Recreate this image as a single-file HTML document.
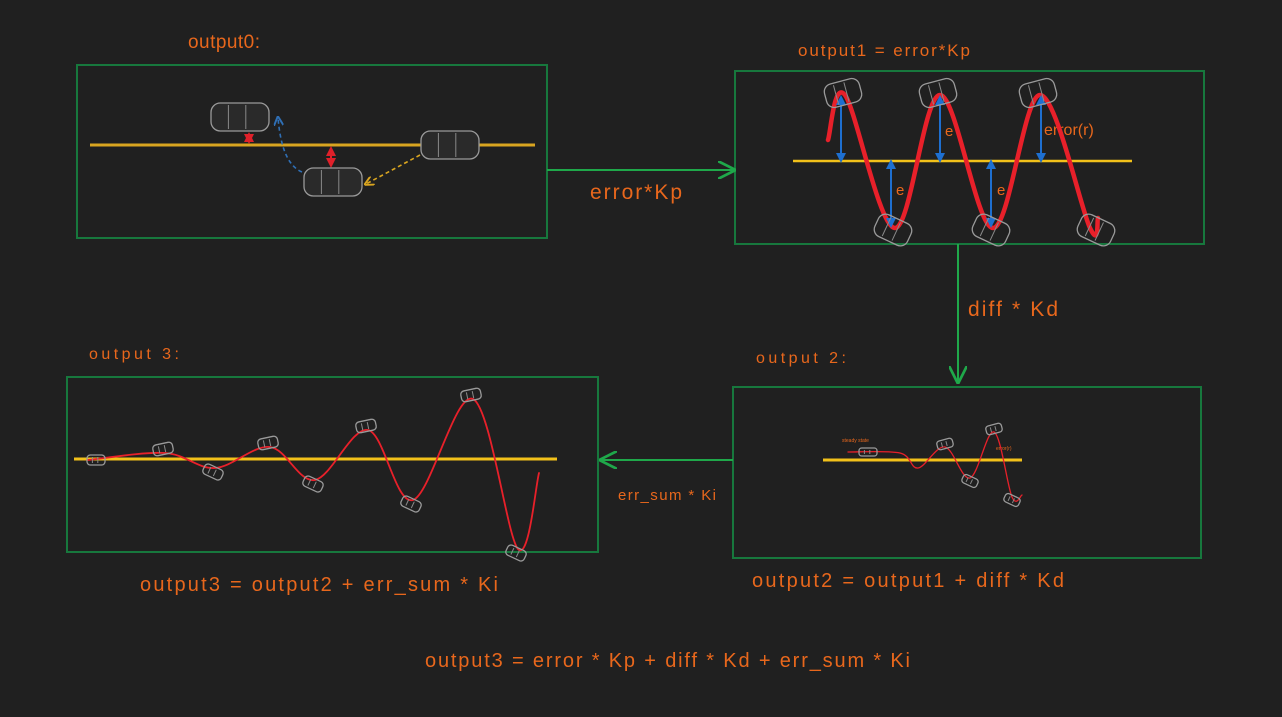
<!DOCTYPE html>
<html><head><meta charset="utf-8"><style>
html,body{margin:0;padding:0;background:#202020;}
svg{display:block}
text{font-family:"Liberation Sans Narrow","Liberation Sans",sans-serif;fill:#e8671c}
</style></head><body>
<svg id="s" width="1282" height="717" viewBox="0 0 1282 717">
<rect width="1282" height="717" fill="#202020"/>
<defs>
<marker id="ga" viewBox="0 0 10 10" refX="9" refY="5" markerWidth="9" markerHeight="9" orient="auto-start-reverse"><path d="M0,0 L10,5 L0,10" fill="none" stroke="#1fa84a" stroke-width="1.5"/></marker>
<marker id="ba" viewBox="0 0 10 10" refX="8" refY="5" markerWidth="5" markerHeight="5" orient="auto-start-reverse"><path d="M0,0 L10,5 L0,10 z" fill="#1e6fd0"/></marker>
<marker id="ra" viewBox="0 0 10 10" refX="8" refY="5" markerWidth="5" markerHeight="5" orient="auto-start-reverse"><path d="M0,0 L10,5 L0,10 z" fill="#e0202a"/></marker>
<marker id="ya" viewBox="0 0 10 10" refX="8" refY="5" markerWidth="6" markerHeight="6" orient="auto"><path d="M0,0 L10,5 L0,10" fill="none" stroke="#d9a520" stroke-width="2"/></marker>
<marker id="bl" viewBox="0 0 10 10" refX="8" refY="5" markerWidth="6" markerHeight="6" orient="auto"><path d="M0,0 L10,5 L0,10" fill="none" stroke="#2f6fb5" stroke-width="2"/></marker>
</defs>
<g fill="none" stroke="#17783d" stroke-width="2">
<rect x="77" y="65" width="470" height="173"/>
<rect x="735" y="71" width="469" height="173"/>
<rect x="733" y="387" width="468" height="171"/>
<rect x="67" y="377" width="531" height="175"/>
</g>
<g stroke="#1fa84a" stroke-width="2" fill="none">
<line x1="547" y1="170" x2="734" y2="170" marker-end="url(#ga)"/>
<line x1="958" y1="244" x2="958" y2="382" marker-end="url(#ga)"/>
<line x1="733" y1="460" x2="601" y2="460" marker-end="url(#ga)"/>
</g>
<g>
<line x1="90" y1="145" x2="535" y2="145" stroke="#d9a520" stroke-width="3"/>
<path d="M302,172 C285,165 280,140 278,118" fill="none" stroke="#2f6fb5" stroke-width="1.6" stroke-dasharray="4 3" marker-end="url(#bl)"/>
<path d="M420,155 L366,184" fill="none" stroke="#d9a520" stroke-width="1.6" stroke-dasharray="4 3" marker-end="url(#ya)"/>
<line x1="249" y1="134" x2="249" y2="142" stroke="#e0202a" stroke-width="2" marker-start="url(#ra)" marker-end="url(#ra)"/>
<line x1="331" y1="148" x2="331" y2="166" stroke="#e0202a" stroke-width="2" marker-start="url(#ra)" marker-end="url(#ra)"/>
</g>
<g id="cars"></g>
<g id="curves"></g>
<g>
<text x="188" y="48" font-size="19" textLength="72">output0:</text>
<text x="798" y="56" font-size="17" textLength="172">output1 = error*Kp</text>
<text x="590" y="199" font-size="21" textLength="92">error*Kp</text>
<text x="968" y="316" font-size="21" textLength="90">diff * Kd</text>
<text x="756" y="363" font-size="16" textLength="90">output 2:</text>
<text x="89" y="359" font-size="16" textLength="90">output 3:</text>
<text x="618" y="500" font-size="15" textLength="98">err_sum * Ki</text>
<text x="140" y="591" font-size="20" textLength="358">output3 = output2 + err_sum  * Ki</text>
<text x="752" y="587" font-size="20" textLength="312">output2 = output1 + diff  * Kd</text>
<text x="425" y="667" font-size="20" textLength="485">output3 = error * Kp + diff * Kd + err_sum  * Ki</text>
<text x="1044" y="135" font-size="16">error(r)</text>
<text x="945" y="136" font-size="15">e</text>
<text x="896" y="195" font-size="15">e</text>
<text x="997" y="195" font-size="15">e</text>
<text x="842" y="442" font-size="5">steady state</text>
<text x="996" y="450" font-size="5">error(r)</text>
</g>
<line x1="793" y1="161" x2="1132" y2="161" stroke="#f2c11a" stroke-width="2.5"/>
<line x1="823" y1="460" x2="1022" y2="460" stroke="#f2c11a" stroke-width="3"/>
<line x1="74" y1="459" x2="557" y2="459" stroke="#f2c11a" stroke-width="3"/>
<g id="fg"></g>
</svg>
<script>
// output1 curve points (x, y)
const out1X = [828, 845, 895, 940, 993, 1040, 1090, 1098];
const out1Y = [140, 95, 228, 95, 228, 95, 228, 218];
// output2 curve
const out2X = [848, 900, 918, 945, 970, 994, 1012, 1022];
const out2Y = [452, 453, 468, 447, 478, 432, 497, 495];
// output3 curve
const out3X = [88, 165, 215, 270, 315, 368, 413, 473, 518, 539];
const out3Y = [460, 453, 468, 447, 480, 430, 500, 399, 549, 473];
// error arrows in output1 (x, top, bottom)
const errX = [841, 891, 940, 991, 1041];
const errA = [97, 161, 97, 161, 97];
const errB = [161, 226, 161, 226, 161];
const NS='http://www.w3.org/2000/svg';
function smooth(xs, ys){
  let d='M'+xs[0]+','+ys[0];
  for(let i=0;i<xs.length-1;i++){
    const x0=xs[Math.max(0,i-1)],y0=ys[Math.max(0,i-1)];
    const x1=xs[i],y1=ys[i],x2=xs[i+1],y2=ys[i+1];
    const x3=xs[Math.min(xs.length-1,i+2)],y3=ys[Math.min(xs.length-1,i+2)];
    d+=' C'+(x1+(x2-x0)/6)+','+(y1+(y2-y0)/6)+' '+(x2-(x3-x1)/6)+','+(y2-(y3-y1)/6)+' '+x2+','+y2;
  }
  return d;
}
const cars=document.getElementById('cars');
function car(x,y,w,h,rot,name){
  const g=document.createElementNS(NS,'g');
  g.setAttribute('transform','translate('+x+','+y+') rotate('+rot+')');
  
  
  const r=document.createElementNS(NS,'rect');
  r.setAttribute('x',-w/2);r.setAttribute('y',-h/2);r.setAttribute('width',w);r.setAttribute('height',h);
  r.setAttribute('rx',h/3);r.setAttribute('fill','#2a2a2a');r.setAttribute('stroke','#9a9a9a');r.setAttribute('stroke-width','1.3');
  g.appendChild(r);
  [-0.2,0.1].forEach(f=>{const l=document.createElementNS(NS,'line');l.setAttribute('x1',w*f);l.setAttribute('x2',w*f);l.setAttribute('y1',-h/2+2);l.setAttribute('y2',h/2-2);l.setAttribute('stroke','#8a8a8a');g.appendChild(l);});
  return g;
}
function addCar(x,y,w,h,rot,name,parent){(parent||cars).appendChild(car(x,y,w,h,rot,name));}
const fg=document.getElementById('fg');
addCar(240,117,58,28,0,'car-0a');addCar(333,182,58,28,0,'car-0b');addCar(450,145,58,28,0,'car-0c');
function drawCurve(xs,ys,w,name){
  const p=document.createElementNS(NS,'path');
  p.setAttribute('d',smooth(xs,ys));p.setAttribute('fill','none');p.setAttribute('stroke','#e8202a');p.setAttribute('stroke-width',w);
  p.setAttribute('stroke-linecap','round');
  
  
  fg.appendChild(p);
}
drawCurve(out1X,out1Y,4.5,'output1-curve');
drawCurve(out2X,out2Y,1.3,'output2-curve');
drawCurve(out3X,out3Y,1.8,'output3-curve');
for(let i=0;i<errX.length;i++){
  const l=document.createElementNS(NS,'line');
  l.setAttribute('x1',errX[i]);l.setAttribute('x2',errX[i]);l.setAttribute('y1',errA[i]);l.setAttribute('y2',errB[i]);
  l.setAttribute('stroke','#1e6fd0');l.setAttribute('stroke-width','2');
  l.setAttribute('marker-start','url(#ba)');l.setAttribute('marker-end','url(#ba)');
  
  
  fg.appendChild(l);
}
for(let i=1;i<out1X.length-1;i++){addCar(out1X[i]-2+(i===6?8:0),out1Y[i]+(out1Y[i]<150?-2:2),36,24,out1Y[i]<150?-15:25,'car-1',fg);}
[1,2,3,4,5,6,7,8].forEach(i=>{addCar(out3X[i]-2,out3Y[i]-4*(out3Y[i]<459?1:-1),20,11,out3Y[i]<459?-12:25,'car-3',fg);});
addCar(96,460,18,10,0,'car-3-start',fg);
[3,4,5,6].forEach(i=>{addCar(out2X[i],out2Y[i]+(out2Y[i]<460?-3:3),16,9,out2Y[i]<460?-15:25,'car-2',fg);});
addCar(868,452,18,8,0,'car-2-start',fg);
document.querySelectorAll('#fg g rect').forEach(r=>r.setAttribute('fill','none'));
</script>
</body></html>
